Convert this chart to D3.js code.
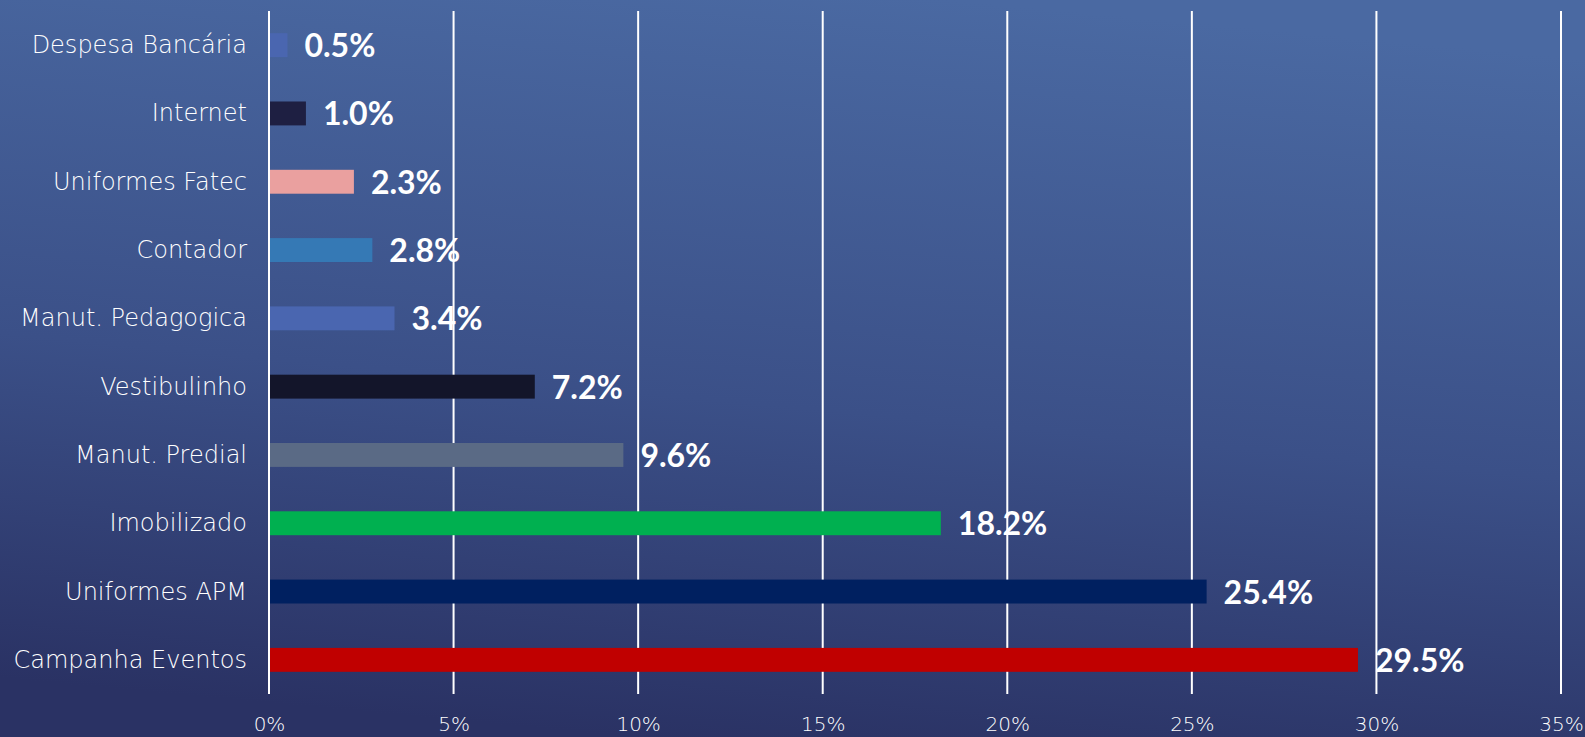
<!DOCTYPE html>
<html>
<head>
<meta charset="utf-8">
<script src="https://cdn.jsdelivr.net/npm/d3@7"></script>
<style>
  html, body { margin: 0; padding: 0; overflow: hidden; }
  body { width: 1585px; height: 737px; }
</style>
</head>
<body>
<div id="chart"></div>
<script>
var categories = ["Despesa Bancária", "Internet", "Uniformes Fatec", "Contador", "Manut. Pedagogica",
                  "Vestibulinho", "Manut. Predial ", "Imobilizado ", "Uniformes APM", "Campanha Eventos"];
var values = [0.005, 0.010, 0.023, 0.028, 0.034, 0.072, 0.096, 0.182, 0.254, 0.295];
var barColors = ["#4a66b0", "#1e1f42", "#eaa09f", "#3579b5", "#4a66b0",
                 "#13152a", "#5a6a85", "#00b050", "#002060", "#c00000"];
var ticks = [0, 0.05, 0.10, 0.15, 0.20, 0.25, 0.30, 0.35];

var W = 1585, H = 737;
var margin = {top: 11, right: 24, bottom: 43, left: 269};

var svg = d3.select("#chart").append("svg")
    .attr("width", W)
    .attr("height", H)
    .style("font-family", "'DejaVu Sans', sans-serif");

// background gradient
var defs = svg.append("defs");
var grad = defs.append("linearGradient")
    .attr("id", "bg")
    .attr("x1", "60%").attr("y1", "0%")
    .attr("x2", "40%").attr("y2", "100%");
grad.append("stop").attr("offset", "0%").attr("stop-color", "#4a69a2");
grad.append("stop").attr("offset", "55%").attr("stop-color", "#3b5088");
grad.append("stop").attr("offset", "100%").attr("stop-color", "#2a3264");
svg.append("rect").attr("width", W).attr("height", H).attr("fill", "url(#bg)");

var x = d3.scaleLinear()
    .domain([0, 0.35])
    .range([margin.left, W - margin.right]);

var y = d3.scaleBand()
    .domain(categories)
    .range([margin.top, H - margin.bottom])
    .paddingInner(0.65)
    .paddingOuter(0.325);

// vertical gridlines
svg.append("g")
  .selectAll("line")
  .data(ticks)
  .enter().append("line")
    .attr("x1", function(d) { return x(d); })
    .attr("x2", function(d) { return x(d); })
    .attr("y1", margin.top)
    .attr("y2", H - margin.bottom)
    .attr("stroke", "#ffffff")
    .attr("stroke-width", 2);

// x axis tick labels
var xAxis = svg.append("g")
    .attr("transform", "translate(0," + (H - margin.bottom) + ")")
    .call(d3.axisBottom(x).tickValues(ticks).tickSize(0).tickPadding(23).tickFormat(d3.format(".0%")));
xAxis.select(".domain").remove();
xAxis.selectAll("text")
    .attr("fill", "#ffffff")
    .style("font-size", "20px")
    .style("font-family", "'DejaVu Sans', sans-serif")
    .style("font-weight", "200");

// bars
svg.append("g")
  .selectAll("rect")
  .data(values)
  .enter().append("rect")
    .attr("x", x(0) + 1)
    .attr("y", function(d, i) { return y(categories[i]); })
    .attr("width", function(d) { return x(d) - x(0) - 1; })
    .attr("height", y.bandwidth())
    .attr("fill", function(d, i) { return barColors[i]; });

// category labels
svg.append("g")
  .selectAll("text")
  .data(categories)
  .enter().append("text")
    .attr("x", margin.left - 22)
    .attr("y", function(d) { return y(d) + y.bandwidth() / 2 + 8; })
    .attr("text-anchor", "end")
    .attr("fill", "#ffffff")
    .style("font-size", "24px")
    .style("font-weight", "200")
    .text(function(d) { return d; });

// value labels
svg.append("g")
  .selectAll("text")
  .data(values)
  .enter().append("text")
    .attr("x", function(d) { return x(d) + 17; })
    .attr("y", function(d, i) { return y(categories[i]) + y.bandwidth() / 2 + 12; })
    .attr("fill", "#ffffff")
    .style("font-family", "Lato, sans-serif")
    .style("font-size", "32px")
    .style("font-weight", "bold")
    .text(function(d) { return d3.format(".1%")(d); });
</script>
</body>
</html>
